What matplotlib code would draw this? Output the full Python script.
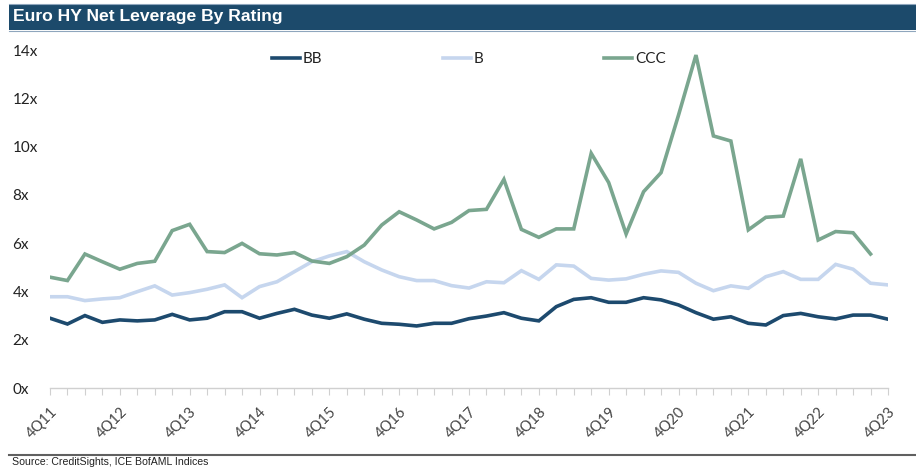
import matplotlib
matplotlib.use("Agg")
import matplotlib.pyplot as plt
from matplotlib.patches import Rectangle
from matplotlib.lines import Line2D
import numpy as np

# ---- data ----
tick_labels = [f"4Q{y}" for y in range(11, 24)]

bb = [2.89, 2.65, 3.00, 2.72, 2.82, 2.78, 2.82, 3.05, 2.82, 2.89, 3.16, 3.16, 2.89,
      3.09, 3.26, 3.02, 2.89, 3.07, 2.85, 2.68, 2.64, 2.57, 2.68, 2.68, 2.87,
      2.98, 3.12, 2.89, 2.78, 3.37, 3.67, 3.74, 3.55, 3.55, 3.74, 3.65, 3.44,
      3.12, 2.85, 2.95, 2.68, 2.61, 3.00, 3.09, 2.95, 2.86, 3.02, 3.02, 2.85]
b = [3.78, 3.78, 3.62, 3.69, 3.74, 3.99, 4.23, 3.85, 3.95, 4.09, 4.27, 3.74, 4.20,
     4.40, 4.82, 5.23, 5.47, 5.65, 5.23, 4.89, 4.61, 4.45, 4.45, 4.24, 4.14,
     4.40, 4.36, 4.86, 4.50, 5.10, 5.05, 4.54, 4.47, 4.52, 4.71, 4.85, 4.79,
     4.34, 4.03, 4.23, 4.13, 4.61, 4.82, 4.50, 4.50, 5.12, 4.92, 4.34, 4.27]
ccc = [4.59, 4.45, 5.55, 5.23, 4.92, 5.16, 5.25, 6.52, 6.78, 5.65, 5.61, 5.99, 5.56,
       5.51, 5.61, 5.26, 5.16, 5.44, 5.92, 6.75, 7.30, 6.96, 6.59, 6.86, 7.35,
       7.40, 8.64, 6.57, 6.24, 6.59, 6.59, 9.72, 8.51, 6.38, 8.13, 8.92, 11.30,
       13.79, 10.44, 10.23, 6.55, 7.07, 7.12, 9.49, 6.13, 6.48, 6.43, 5.55, np.nan]
yticks = [0, 2, 4, 6, 8, 10, 12, 14]

C_BB = "#1d4a6e"
C_B = "#c6d6ee"
C_CCC = "#7aa68f"

W, H = 916, 468
fig = plt.figure(figsize=(W / 100, H / 100), dpi=100)
fig.patch.set_facecolor("white")

# title bar
fig.patches.append(Rectangle((9 / W, 1 - 30 / H), 1 - 9 / W, 26 / H, transform=fig.transFigure,
                             facecolor="#1c4a6b", edgecolor="none", zorder=0))
fig.add_artist(Line2D([9 / W, 1], [1 - 4 / H, 1 - 4 / H], color="#8fa6bd", lw=0.8))
fig.add_artist(Line2D([9 / W, 1], [1 - 30.5 / H, 1 - 30.5 / H], color="#8fa6bd", lw=0.8))
fig.text(13 / W, 1 - 17 / H, "Euro HY Net Leverage By Rating", color="white",
         fontsize=12.6, fontweight="bold", family="Liberation Sans", va="center", ha="left")

# bottom rule and source
fig.add_artist(Line2D([9 / W, 1], [1 - 454.5 / H, 1 - 454.5 / H], color="#606060", lw=1.5))
fig.text(12 / W, 1 - 462 / H, "Source: CreditSights, ICE BofAML Indices", color="#222222",
         fontsize=7.6, family="Liberation Sans", va="center", ha="left")

left, right = 50 / W, 888 / W
bottom, top = 1 - 388 / H, 1 - 50 / H
ax = fig.add_axes([left, bottom, right - left, top - bottom])
x = np.arange(len(bb))
ax.plot(x, bb, color=C_BB, lw=2.6, label="BB", solid_joinstyle="miter")
ax.plot(x, b, color=C_B, lw=2.6, label="B", solid_joinstyle="miter")
ax.plot(x, ccc, color=C_CCC, lw=2.6, label="CCC", solid_joinstyle="miter")

ax.set_xlim(0, len(bb) - 1)
ax.set_ylim(0, 14)
ax.set_yticks(yticks)
ax.set_yticklabels([f"{v}x" for v in yticks], family="Lato", fontsize=11, color="#222222")
for lab in ax.get_yticklabels():
    lab.set_horizontalalignment("left")
ax.tick_params(axis="y", length=0, pad=27)

ax.set_xticks(x, minor=True)
ax.set_xticks(np.arange(0, len(bb), 4))
ax.set_xticklabels(tick_labels, rotation=45, ha="right", rotation_mode="anchor",
                   family="Lato", fontsize=10.5, color="#444444")
ax.tick_params(axis="x", which="both", length=5, color="#d0d0d0", width=0.8, pad=7)

for s in ("top", "right", "left"):
    ax.spines[s].set_visible(False)
ax.spines["bottom"].set_color("#d0d0d0")
ax.spines["bottom"].set_linewidth(1.0)

leg = ax.legend(loc="upper center", bbox_to_anchor=(0.5, 1.012), ncol=3, frameon=False,
                prop={"family": "Lato", "size": 11}, handlelength=1.8, handletextpad=0.2,
                columnspacing=7.9, borderaxespad=0.0)
for t in leg.get_texts():
    t.set_color("#222222")

fig.savefig("out.png", dpi=100)
